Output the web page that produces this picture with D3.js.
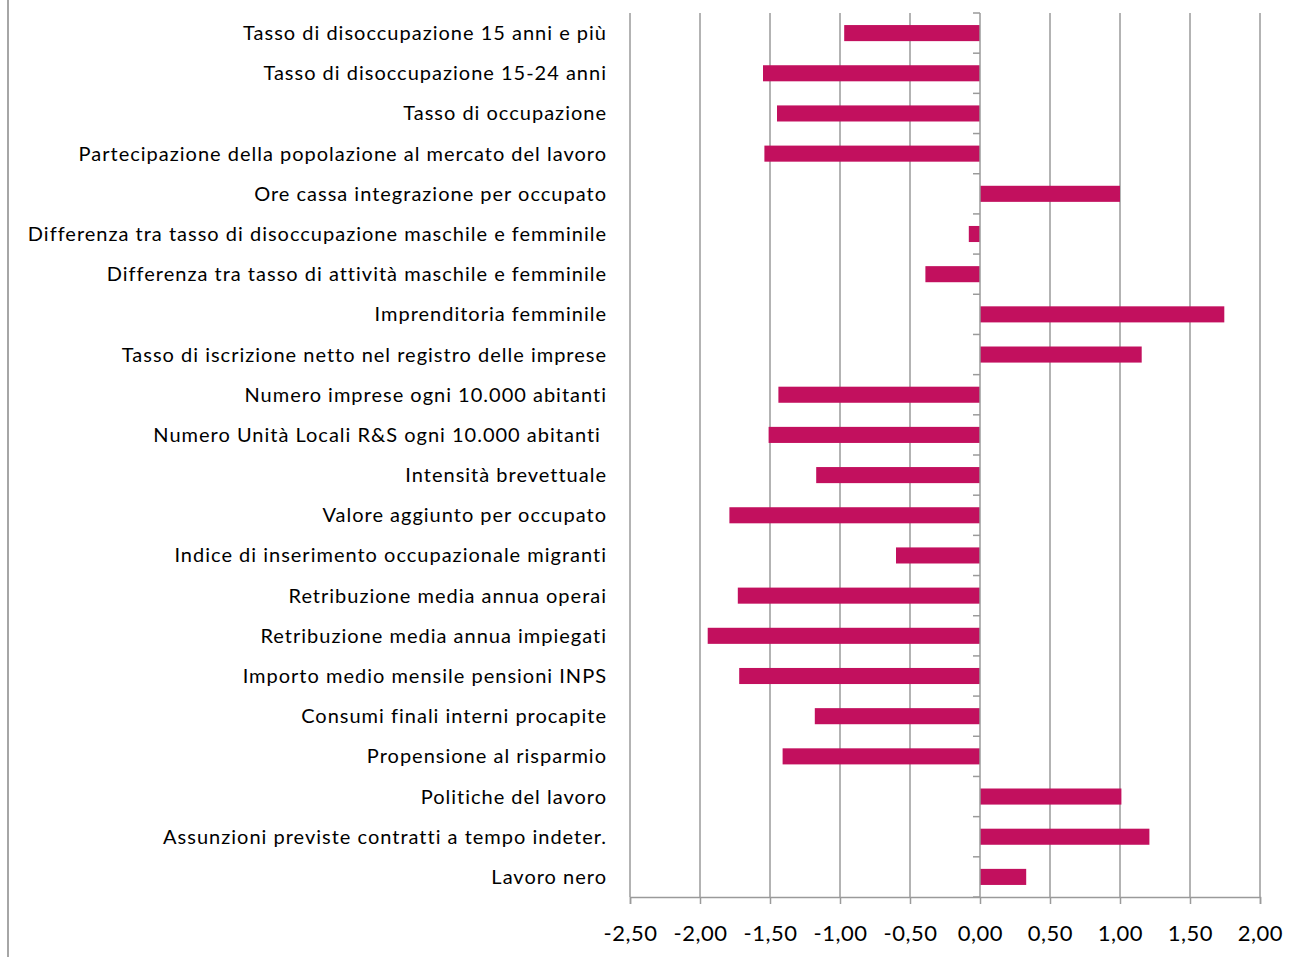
<!DOCTYPE html>
<html>
<head>
<meta charset="utf-8">
<script src="https://cdn.jsdelivr.net/npm/d3@7"></script>
<style>
  html, body { margin: 0; padding: 0; background: #fff; }
  svg { display: block; }
  text { font-family: Lato, "Open Sans", sans-serif; fill: #000; }
</style>
</head>
<body>
<svg id="chart" width="1303" height="957"></svg>
<script>
// Indicatori: scostamento standardizzato
const categories = [
  "Tasso di disoccupazione 15 anni e più",
  "Tasso di disoccupazione 15-24 anni",
  "Tasso di occupazione",
  "Partecipazione della popolazione al mercato del lavoro",
  "Ore cassa integrazione per occupato",
  "Differenza tra tasso di disoccupazione maschile e femminile",
  "Differenza tra tasso di attività maschile e femminile",
  "Imprenditoria femminile",
  "Tasso di iscrizione netto nel registro delle imprese",
  "Numero imprese ogni 10.000 abitanti",
  "Numero Unità Locali R&S ogni 10.000 abitanti ",
  "Intensità brevettuale",
  "Valore aggiunto per occupato",
  "Indice di inserimento occupazionale migranti",
  "Retribuzione media annua operai",
  "Retribuzione media annua impiegati",
  "Importo medio mensile pensioni INPS",
  "Consumi finali interni procapite",
  "Propensione al risparmio",
  "Politiche del lavoro",
  "Assunzioni previste contratti a tempo indeter.",
  "Lavoro nero"
];

const values = [
  -0.97, -1.55, -1.45, -1.54, 1.00, -0.08, -0.39, 1.745, 1.155, -1.44, -1.51,
  -1.17, -1.79, -0.60, -1.73, -1.945, -1.72, -1.18, -1.41, 1.01, 1.21, 0.33
];

const tickValues = [-2.5, -2.0, -1.5, -1.0, -0.5, 0.0, 0.5, 1.0, 1.5, 2.0];

const svg = d3.select("#chart");
const width = 1303, height = 957;

const plot = { left: 630, right: 1260, top: 13, bottom: 897 };
const barColor = "#C2105E";
const gridColor = "#9a9a9a";

const it = d3.formatLocale({ decimal: ",", thousands: ".", grouping: [3], currency: ["€", ""], minus: "-" });
const fmt = it.format(".2f");

const x = d3.scaleLinear().domain([-2.5, 2.0]).range([plot.left, plot.right]);
const y = d3.scaleBand()
  .domain(categories)
  .range([plot.top, plot.bottom])
  .paddingInner(0.6)
  .paddingOuter(0.3);

// Left frame line of the chart area
svg.append("line")
  .attr("x1", 8).attr("x2", 8)
  .attr("y1", 0).attr("y2", height)
  .attr("stroke", "#a6a6a6").attr("stroke-width", 2);

// Vertical gridlines
svg.append("g")
  .selectAll("line")
  .data(tickValues.filter(d => d !== 0))
  .join("line")
  .attr("x1", d => x(d)).attr("x2", d => x(d))
  .attr("y1", plot.top).attr("y2", plot.bottom)
  .attr("stroke", gridColor).attr("stroke-width", 1.5);

// Bars
svg.append("g")
  .selectAll("rect")
  .data(categories.map((c, i) => ({ c, v: values[i] })))
  .join("rect")
  .attr("x", d => x(Math.min(0, d.v)))
  .attr("width", d => Math.abs(x(d.v) - x(0)))
  .attr("y", d => y(d.c))
  .attr("height", y.bandwidth())
  .attr("fill", barColor);

// Bottom value axis
const xAxis = d3.axisBottom(x)
  .tickValues(tickValues)
  .tickFormat(fmt)
  .tickSize(7)
  .tickPadding(21);

const gx = svg.append("g")
  .attr("transform", `translate(0,${plot.bottom})`)
  .call(xAxis);
gx.select(".domain").attr("stroke", gridColor).attr("stroke-width", 1.5);
gx.selectAll(".tick line").attr("stroke", gridColor).attr("stroke-width", 1.5);
gx.selectAll(".tick text")
  .attr("font-size", 22)
  .attr("fill", "#000")
  .style("letter-spacing", "0.5px")
  .style("font-family", "Lato, 'Open Sans', sans-serif");

// Category axis at zero, with ticks at band boundaries
const step = y.step();
const bounds = d3.range(categories.length + 1).map(i => plot.top + i * step);
const gy = svg.append("g");
gy.append("line")
  .attr("x1", x(0)).attr("x2", x(0))
  .attr("y1", plot.top).attr("y2", plot.bottom)
  .attr("stroke", gridColor).attr("stroke-width", 1.5);
gy.selectAll("line.tick")
  .data(bounds)
  .join("line")
  .attr("class", "tick")
  .attr("x1", x(0) - 7).attr("x2", x(0))
  .attr("y1", d => d).attr("y2", d => d)
  .attr("stroke", gridColor).attr("stroke-width", 1.5);

// Category labels
svg.append("g")
  .selectAll("text")
  .data(categories)
  .join("text")
  .attr("x", 607)
  .attr("y", d => y(d) + y.bandwidth() / 2)
  .attr("dy", "0.35em")
  .attr("text-anchor", "end")
  .attr("font-size", 20)
  .style("letter-spacing", "1px")
  .style("white-space", "pre")
  .text(d => d);
</script>
</body>
</html>
